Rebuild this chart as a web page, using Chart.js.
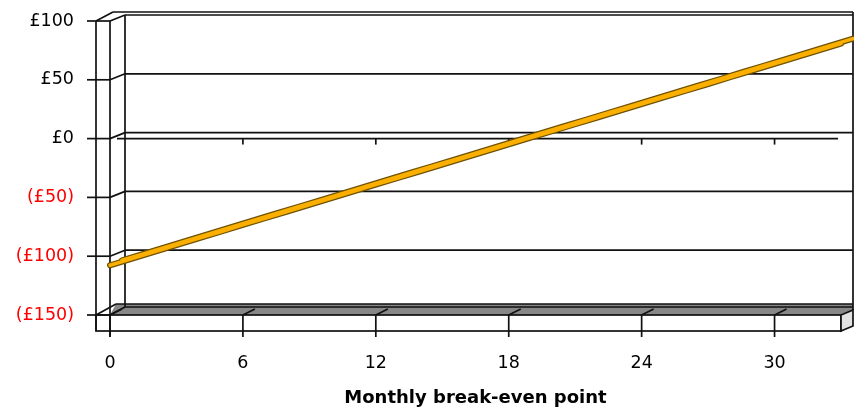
<!DOCTYPE html>
<html>
<head>
<meta charset="utf-8">
<script src="https://cdn.jsdelivr.net/npm/chart.js@4/dist/chart.umd.min.js"></script>
<style>
  html, body { margin: 0; padding: 0; background: #fff; }
  canvas { display: block; background: #fff; }
</style>
</head>
<body>
<canvas id="chart" width="854" height="413"></canvas>
<script>
// Months after launch (category axis)
const months = ['0','1','2','3','4','5','6','7','8','9','10','11','12','13','14','15','16',
                '17','18','19','20','21','22','23','24','25','26','27','28','29','30','31','32','33'];
// Months that carry a label / tick on the axis
const labelledMonths = ['0','6','12','18','24','30'];
// Cumulative balance in pounds
const balance = [-107.7, -102.0, -96.3, -90.6, -84.9, -79.2, -73.4, -67.7, -62.0, -56.3,
                 -50.6, -44.9, -39.2, -33.5, -27.8, -22.1, -16.4, -10.6, -4.9, 0.8,
                 6.5, 12.2, 17.9, 23.6, 29.3, 35.0, 40.7, 46.4, 52.2, 57.9,
                 63.6, 69.3, 75.0, 80.7];
// Value axis ticks
const valueTicks = [100, 50, 0, -50, -100, -150];
const axisTitle = 'Monthly break-even point';

const FONT = 'DejaVu Sans';
const WALL = 14;        // side wall thickness
const SLAB = 16;        // floor slab thickness
const DEPTH_X = 15, DEPTH_Y = -6;   // back wall offset
const RIBBON_X = 12, RIBBON_Y = -5; // depth of the line ribbon

function seg(ctx, x1, y1, x2, y2) {
  ctx.beginPath(); ctx.moveTo(x1, y1); ctx.lineTo(x2, y2); ctx.stroke();
}

// Draws walls, floor slab, gridlines and tick marks in a pseudo-3D style
const frame3d = {
  id: 'frame3d',
  beforeDatasetsDraw(chart) {
    const { ctx, chartArea: a, scales: { x, y } } = chart;
    const L = a.left, R = a.right, T = a.top, B = a.bottom;
    const WL = L - WALL;
    const BX = R + 12;
    const FBK = B - 11;
    ctx.save();
    ctx.strokeStyle = '#111';
    ctx.lineWidth = 1.7;

    // floor top face
    ctx.fillStyle = '#878787';
    ctx.beginPath();
    ctx.moveTo(L, B); ctx.lineTo(R, B); ctx.lineTo(BX, B - 5); ctx.lineTo(BX, FBK);
    ctx.lineTo(L + 6, FBK); ctx.closePath(); ctx.fill();
    seg(ctx, L + 6, FBK, BX, FBK);
    seg(ctx, L + DEPTH_X, FBK + 3, BX, FBK + 3);
    seg(ctx, WL, B, L + 6, FBK);
    seg(ctx, L, B, L + DEPTH_X, FBK + 3);

    // floor front face
    ctx.fillStyle = '#fff';
    ctx.fillRect(WL, B, R - WL, SLAB);
    ctx.strokeRect(WL, B, R - WL, SLAB);

    // floor right side face
    ctx.fillStyle = '#e2e2e2';
    ctx.beginPath();
    ctx.moveTo(R, B); ctx.lineTo(BX, B - 5); ctx.lineTo(BX, B - 5 + SLAB); ctx.lineTo(R, B + SLAB);
    ctx.closePath(); ctx.fill(); ctx.stroke();

    // walls
    seg(ctx, WL, T, WL, B + SLAB);
    seg(ctx, L, T, L, B + SLAB + 6);
    seg(ctx, L + DEPTH_X, T + DEPTH_Y, L + DEPTH_X, FBK + 3);
    seg(ctx, BX, T + DEPTH_Y - 3, BX, B - 5);
    seg(ctx, WL, T, L + 3, T + DEPTH_Y - 3);
    seg(ctx, L, T, L + DEPTH_X, T + DEPTH_Y);
    seg(ctx, L + 3, T + DEPTH_Y - 3, BX, T + DEPTH_Y - 3);
    seg(ctx, L + DEPTH_X, T + DEPTH_Y, BX, T + DEPTH_Y);

    // value gridlines and ticks
    valueTicks.forEach(v => {
      const yy = y.getPixelForValue(v);
      seg(ctx, L - 23, yy, L, yy);
      if (v !== valueTicks[0] && v !== valueTicks[valueTicks.length - 1]) {
        seg(ctx, L, yy, L + DEPTH_X, yy + DEPTH_Y);
        seg(ctx, L + DEPTH_X, yy + DEPTH_Y, BX, yy + DEPTH_Y);
      }
    });

    // zero line across the plot with its month ticks
    const y0 = y.getPixelForValue(0);
    seg(ctx, L + 7, y0, R - 3, y0);
    months.forEach((m, i) => {
      if (!labelledMonths.includes(m)) return;
      const px = x.getPixelForValue(i);
      if (px > L + DEPTH_X) seg(ctx, px, y0, px, y0 + 6);
      // floor ticks
      seg(ctx, px, B, px, B + SLAB + 6);
      seg(ctx, px, B, px + 12, B - 6);
    });
    ctx.restore();
  }
};

// Gives the line its depth: each line is drawn again set back into the chart
const ribbon = {
  id: 'ribbon',
  afterDatasetDraw(chart, args) {
    const ctx = chart.ctx;
    ctx.save();
    ctx.translate(RIBBON_X, RIBBON_Y);
    args.meta.controller.draw();
    ctx.restore();
  }
};

new Chart(document.getElementById('chart'), {
  type: 'line',
  data: {
    labels: months,
    datasets: [
      { data: balance, borderColor: '#fbaf00', borderWidth: 3.5, clip: false, order: 0,
        pointRadius: 0, borderCapStyle: 'round', borderJoinStyle: 'round' },
      { data: balance, borderColor: '#6e5200', borderWidth: 6, clip: false, order: 1,
        pointRadius: 0, borderCapStyle: 'round', borderJoinStyle: 'round' }
    ]
  },
  options: {
    responsive: false,
    animation: false,
    devicePixelRatio: 1,
    layout: { padding: { top: 21, right: 13, left: 0, bottom: 0 } },
    plugins: { legend: { display: false }, tooltip: { enabled: false } },
    elements: { line: { tension: 0 } },
    scales: {
      x: {
        type: 'category',
        offset: false,
        grid: { display: false, drawTicks: false },
        border: { display: false },
        ticks: {
          autoSkip: false, maxRotation: 0, minRotation: 0, padding: 38,
          color: '#000', font: { family: FONT, size: 17.5 },
          callback(v, i) { return labelledMonths.includes(months[i]) ? months[i] : ''; }
        },
        title: {
          display: true, text: axisTitle, color: '#000',
          font: { family: FONT, size: 18, weight: 'bold' },
          padding: { top: 0, bottom: 4 }
        },
        afterFit(s) { s.height = 98; s.paddingLeft = 0; s.paddingRight = 0; }
      },
      y: {
        min: valueTicks[valueTicks.length - 1],
        max: valueTicks[0],
        grid: { display: false, drawTicks: false },
        border: { display: false },
        afterBuildTicks(s) { s.ticks = valueTicks.map(v => ({ value: v })); },
        ticks: {
          padding: 36,
          font: { family: FONT, size: 17.5 },
          color: c => (c.tick && c.tick.value < 0) ? '#ff0000' : '#000000',
          callback: v => v < 0 ? '(£' + (-v) + ')' : '£' + v
        },
        afterFit(s) { s.width = 110; s.paddingTop = 0; s.paddingBottom = 0; }
      }
    }
  },
  plugins: [frame3d, ribbon]
});
</script>
</body>
</html>
